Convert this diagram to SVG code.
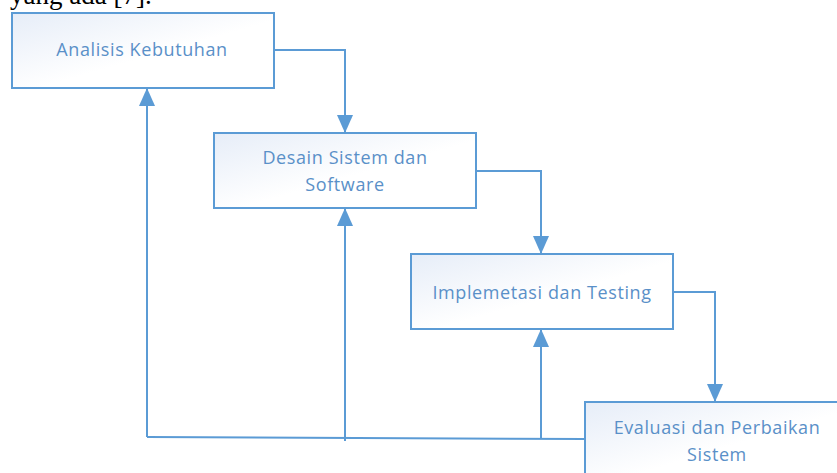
<svg xmlns="http://www.w3.org/2000/svg" width="837" height="473" viewBox="0 0 837 473">
  <defs>
    <linearGradient id="boxFill" x1="0" y1="0" x2="1" y2="1">
      <stop offset="0" stop-color="#e6edf8"/>
      <stop offset="0.55" stop-color="#ffffff"/>
      <stop offset="1" stop-color="#ffffff"/>
    </linearGradient>
    <marker id="arrow" viewBox="0 0 18 16" refX="18" refY="8" markerWidth="18" markerHeight="16" markerUnits="userSpaceOnUse" orient="auto">
      <path d="M0,0 L18,8 L0,16 Z" fill="#5b9bd5"/>
    </marker>
    <style>
      .box { fill: url(#boxFill); stroke: #5b9bd5; stroke-width: 2; }
      .label { font-family: "Open Sans", "Liberation Sans", sans-serif; font-size: 18px; fill: #5a90c8; text-anchor: middle; letter-spacing: 0.6px; }
      .conn { fill: none; stroke: #5b9bd5; stroke-width: 2; }
      .caption { font-family: "Liberation Serif", serif; font-size: 27px; fill: #000; }
    </style>
  </defs>

  <rect width="837" height="473" fill="#ffffff"/>

  <text class="caption" x="10" y="4">yang ada [7].</text>

  <g id="connectors">
    <!-- forward flow -->
    <path class="conn" d="M274,50 H345 V133" marker-end="url(#arrow)"/>
    <path class="conn" d="M476,171 H541 V254" marker-end="url(#arrow)"/>
    <path class="conn" d="M673,292 H715 V402" marker-end="url(#arrow)"/>
    <!-- feedback loop -->
    <path class="conn" d="M585,439 L147,437"/>
    <path class="conn" d="M147,437 V88" marker-end="url(#arrow)"/>
    <path class="conn" d="M345,441 V208" marker-end="url(#arrow)"/>
    <path class="conn" d="M541,439 V329" marker-end="url(#arrow)"/>
  </g>

  <g id="analisis">
    <rect class="box" x="12" y="13" width="262" height="75"/>
    <text class="label" x="142" y="56">Analisis Kebutuhan</text>
  </g>

  <g id="desain">
    <rect class="box" x="214" y="133" width="262" height="75"/>
    <text class="label" x="345" y="164">Desain Sistem dan</text>
    <text class="label" x="345" y="191">Software</text>
  </g>

  <g id="implementasi">
    <rect class="box" x="411" y="254" width="262" height="75"/>
    <text class="label" x="542" y="299">Implemetasi dan Testing</text>
  </g>

  <g id="evaluasi">
    <rect class="box" x="585" y="402" width="264" height="80"/>
    <text class="label" x="717" y="434">Evaluasi dan Perbaikan</text>
    <text class="label" x="717" y="461">Sistem</text>
  </g>
</svg>
